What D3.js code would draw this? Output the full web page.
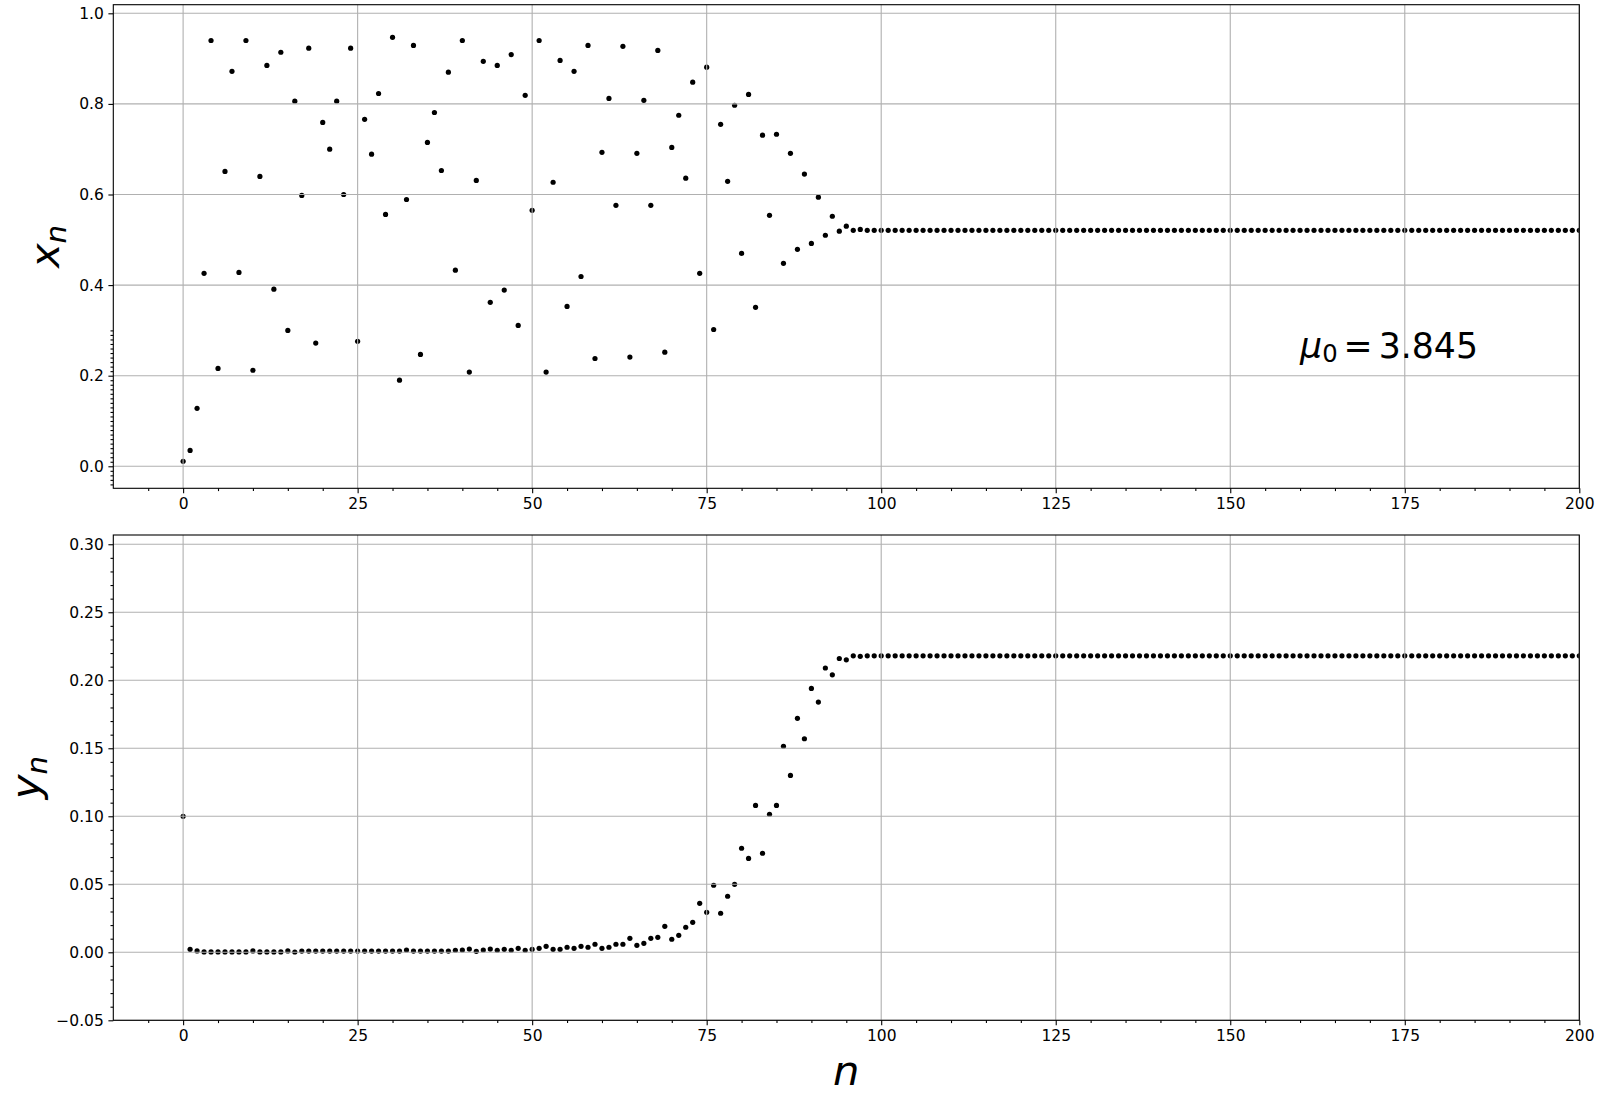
<!DOCTYPE html>
<html>
<head>
<meta charset="utf-8">
<script src="https://cdn.jsdelivr.net/npm/d3@7"></script>
<style>
  html, body { margin: 0; padding: 0; background: #fff; }
  svg { display: block; }
  text { font-family: "DejaVu Sans", sans-serif; fill: #000; }
</style>
</head>
<body>
<svg id="chart" width="1600" height="1100"></svg>
<script>
// ---------------- DATA ----------------
const xTicks = [0, 25, 50, 75, 100, 125, 150, 175, 200];
const topYTicks = [0.0, 0.2, 0.4, 0.6, 0.8, 1.0];
const bottomYTicks = [-0.05, 0.00, 0.05, 0.10, 0.15, 0.20, 0.25, 0.30];
const annotation = { n: 160, value: 0.24, symbol: "μ", sub: "0", eq: "=", num: "3.845" };

// x_n for n = 0 .. 200
const xSeries = [
  0.011, 0.035, 0.128, 0.426, 0.940, 0.216, 0.651, 0.872, 0.428, 0.940,
  0.212, 0.640, 0.885, 0.391, 0.914, 0.300, 0.806, 0.598, 0.923, 0.272,
  0.759, 0.700, 0.806, 0.600, 0.923, 0.276, 0.766, 0.689, 0.823, 0.556,
  0.947, 0.190, 0.589, 0.929, 0.247, 0.715, 0.781, 0.653, 0.870, 0.433,
  0.940, 0.208, 0.631, 0.894, 0.362, 0.885, 0.389, 0.909, 0.311, 0.819,
  0.565, 0.940, 0.208, 0.627, 0.896, 0.353, 0.872, 0.419, 0.929, 0.238,
  0.693, 0.812, 0.576, 0.927, 0.241, 0.691, 0.808, 0.576, 0.918, 0.252,
  0.704, 0.775, 0.636, 0.848, 0.426, 0.881, 0.302, 0.755, 0.629, 0.797,
  0.470, 0.821, 0.351, 0.731, 0.554, 0.733, 0.448, 0.691, 0.479, 0.645,
  0.492, 0.594, 0.510, 0.552, 0.519, 0.530, 0.521, 0.523, 0.521, 0.521,
  0.521, 0.521, 0.521, 0.521, 0.521, 0.521, 0.521, 0.521, 0.521, 0.521,
  0.521, 0.521, 0.521, 0.521, 0.521, 0.521, 0.521, 0.521, 0.521, 0.521,
  0.521, 0.521, 0.521, 0.521, 0.521, 0.521, 0.521, 0.521, 0.521, 0.521,
  0.521, 0.521, 0.521, 0.521, 0.521, 0.521, 0.521, 0.521, 0.521, 0.521,
  0.521, 0.521, 0.521, 0.521, 0.521, 0.521, 0.521, 0.521, 0.521, 0.521,
  0.521, 0.521, 0.521, 0.521, 0.521, 0.521, 0.521, 0.521, 0.521, 0.521,
  0.521, 0.521, 0.521, 0.521, 0.521, 0.521, 0.521, 0.521, 0.521, 0.521,
  0.521, 0.521, 0.521, 0.521, 0.521, 0.521, 0.521, 0.521, 0.521, 0.521,
  0.521, 0.521, 0.521, 0.521, 0.521, 0.521, 0.521, 0.521, 0.521, 0.521,
  0.521, 0.521, 0.521, 0.521, 0.521, 0.521, 0.521, 0.521, 0.521, 0.521,
  0.521
];

// y_n for n = 0 .. 200
const ySeries = [
  0.1000, 0.0022, 0.0010, 0.0003, 0.0003, 0.0003, 0.0003, 0.0003, 0.0003, 0.0003,
  0.0010, 0.0003, 0.0003, 0.0003, 0.0003, 0.0010, 0.0002, 0.0009, 0.0009, 0.0009,
  0.0009, 0.0009, 0.0009, 0.0009, 0.0009, 0.0009, 0.0009, 0.0009, 0.0009, 0.0009,
  0.0009, 0.0009, 0.0017, 0.0009, 0.0009, 0.0009, 0.0009, 0.0009, 0.0009, 0.0015,
  0.0017, 0.0024, 0.0007, 0.0017, 0.0024, 0.0015, 0.0022, 0.0015, 0.0029, 0.0015,
  0.0022, 0.0029, 0.0044, 0.0022, 0.0022, 0.0037, 0.0029, 0.0044, 0.0037, 0.0059,
  0.0029, 0.0037, 0.0059, 0.0059, 0.0103, 0.0051, 0.0066, 0.0103, 0.0110, 0.0191,
  0.0096, 0.0125, 0.0184, 0.0220, 0.0360, 0.0294, 0.0493, 0.0287, 0.0412, 0.0500,
  0.0765, 0.0690, 0.1080, 0.0728, 0.1015, 0.1080, 0.1515, 0.1300, 0.1720, 0.1570,
  0.1940, 0.1840, 0.2090, 0.2040, 0.2160, 0.2150, 0.2180, 0.2176, 0.2180, 0.2180,
  0.2180, 0.2180, 0.2180, 0.2180, 0.2180, 0.2180, 0.2180, 0.2180, 0.2180, 0.2180,
  0.2180, 0.2180, 0.2180, 0.2180, 0.2180, 0.2180, 0.2180, 0.2180, 0.2180, 0.2180,
  0.2180, 0.2180, 0.2180, 0.2180, 0.2180, 0.2180, 0.2180, 0.2180, 0.2180, 0.2180,
  0.2180, 0.2180, 0.2180, 0.2180, 0.2180, 0.2180, 0.2180, 0.2180, 0.2180, 0.2180,
  0.2180, 0.2180, 0.2180, 0.2180, 0.2180, 0.2180, 0.2180, 0.2180, 0.2180, 0.2180,
  0.2180, 0.2180, 0.2180, 0.2180, 0.2180, 0.2180, 0.2180, 0.2180, 0.2180, 0.2180,
  0.2180, 0.2180, 0.2180, 0.2180, 0.2180, 0.2180, 0.2180, 0.2180, 0.2180, 0.2180,
  0.2180, 0.2180, 0.2180, 0.2180, 0.2180, 0.2180, 0.2180, 0.2180, 0.2180, 0.2180,
  0.2180, 0.2180, 0.2180, 0.2180, 0.2180, 0.2180, 0.2180, 0.2180, 0.2180, 0.2180,
  0.2180, 0.2180, 0.2180, 0.2180, 0.2180, 0.2180, 0.2180, 0.2180, 0.2180, 0.2180,
  0.2180
];

// ---------------- LAYOUT ----------------
const svg = d3.select("#chart");
const left = 113.3, right = 1579.3;
const panels = [
  { top: 4.7, bottom: 488.3, domain: [-0.0486, 1.019], ticks: topYTicks, fmt: d3.format(".1f"),
    minor: d3.range(-4, 31).map(i => i / 100).filter(v => Math.abs(v * 5 - Math.round(v * 5)) > 1e-9),
    data: xSeries, label: "x", labelX: 59 },
  { top: 535, bottom: 1020.3, domain: [-0.05, 0.3068], ticks: bottomYTicks, fmt: v => d3.format(".2f")(v).replace("-", "\u2212"),
    minor: d3.range(-5, 31).map(i => i / 100).filter(v => Math.abs(v * 20 - Math.round(v * 20)) > 1e-9),
    data: ySeries, label: "y", labelX: 40 }
];

const x = d3.scaleLinear().domain([-10, 200]).range([left, right]);
const xMinor = d3.range(-5, 201, 5).filter(v => v % 25 !== 0);

const majorLen = 4.9, minorLen = 2.8, lw = 1.1;
const tickFont = "15.5px";

panels.forEach((p, i) => {
  const y = d3.scaleLinear().domain(p.domain).range([p.bottom, p.top]);
  const g = svg.append("g");

  const clipId = "clip" + i;
  svg.append("clipPath").attr("id", clipId)
    .append("rect").attr("x", left).attr("y", p.top).attr("width", right - left).attr("height", p.bottom - p.top);

  // points (drawn under the grid, as in the original)
  g.append("g").attr("clip-path", `url(#${clipId})`)
    .selectAll("circle").data(p.data).join("circle")
    .attr("cx", (d, n) => x(n)).attr("cy", d => y(d)).attr("r", 2.6).attr("fill", "#000");

  // grid
  const grid = g.append("g").attr("stroke", "#b0b0b0").attr("stroke-width", lw);
  grid.selectAll("line.v").data(xTicks).join("line").attr("class", "v")
    .attr("x1", d => x(d)).attr("x2", d => x(d)).attr("y1", p.top).attr("y2", p.bottom);
  grid.selectAll("line.h").data(p.ticks).join("line").attr("class", "h")
    .attr("x1", left).attr("x2", right).attr("y1", d => y(d)).attr("y2", d => y(d));

  // axes
  const styleAxis = sel => {
    sel.select(".domain").remove();
    sel.selectAll(".tick line").attr("stroke", "#000").attr("stroke-width", lw);
    sel.selectAll(".tick text").style("font-size", tickFont).attr("fill", "#000");
  };
  g.append("g").attr("transform", `translate(0,${p.bottom})`)
    .call(d3.axisBottom(x).tickValues(xTicks).tickFormat(d3.format("d")).tickSize(majorLen).tickPadding(4.6))
    .call(styleAxis);
  g.append("g").attr("transform", `translate(0,${p.bottom})`)
    .call(d3.axisBottom(x).tickValues(xMinor).tickFormat("").tickSize(minorLen))
    .call(styleAxis);
  g.append("g").attr("transform", `translate(${left},0)`)
    .call(d3.axisLeft(y).tickValues(p.ticks).tickFormat(p.fmt).tickSize(majorLen).tickPadding(4.6))
    .call(styleAxis);
  g.append("g").attr("transform", `translate(${left},0)`)
    .call(d3.axisLeft(y).tickValues(p.minor).tickFormat("").tickSize(minorLen))
    .call(styleAxis);

  // spines
  g.append("rect").attr("x", left).attr("y", p.top).attr("width", right - left).attr("height", p.bottom - p.top)
    .attr("fill", "none").attr("stroke", "#000").attr("stroke-width", lw);

  // y label
  const cy = (p.top + p.bottom) / 2;
  const lab = g.append("text").attr("transform", `translate(${p.labelX},${cy}) rotate(-90)`)
    .attr("text-anchor", "middle").style("font-size", "41.7px").style("font-style", "italic");
  lab.append("tspan").text(p.label);
  lab.append("tspan").attr("dy", 7).style("font-size", "29.2px").text("n");

  if (i === 0) {
    const t = g.append("text").attr("x", x(annotation.n)).attr("y", y(annotation.value))
      .style("font-size", "34.7px");
    t.append("tspan").style("font-style", "italic").text(annotation.symbol);
    t.append("tspan").attr("dy", 4.5).style("font-size", "24.3px").text(annotation.sub);
    t.append("tspan").attr("dy", -4.5).attr("dx", 6).text(annotation.eq);
    t.append("tspan").attr("dx", 6).text(annotation.num);
  }
  if (i === 1) {
    g.append("text").attr("x", (left + right) / 2).attr("y", 1085).attr("text-anchor", "middle")
      .style("font-size", "41.7px").style("font-style", "italic").text("n");
  }
});
</script>
</body>
</html>
